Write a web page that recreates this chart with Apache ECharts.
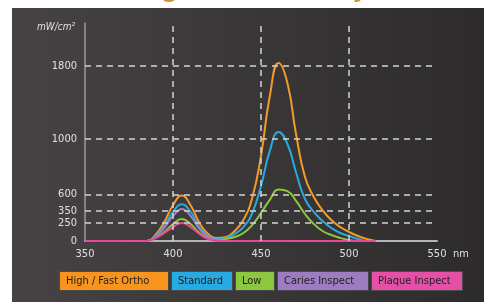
<!DOCTYPE html>
<html>
<head>
<meta charset="utf-8">
<script src="https://cdn.jsdelivr.net/npm/echarts@6/dist/echarts.min.js"></script>
<style>
    html, body { margin: 0; padding: 0; background: #fff; }
    #chart { width: 484px; height: 302px; }
</style>
</head>
<body>
<div id="chart"></div>
<script>
// wavelength samples (nm)
let wavelengths = [350, 355, 360, 365, 370, 375, 380, 385, 390, 395, 400, 405, 410, 415, 420, 425, 430,
    435, 440, 445, 450, 455, 460, 465, 470, 475, 480, 485, 490, 495, 500, 505, 510, 515];
// intensity (mW/cm²) per mode
let highFast = [0, 0, 0, 0, 0, 0, 0, 0, 83, 258, 438, 585, 438, 250, 97, 42, 56,
    139, 275, 547, 878, 1471, 1833, 1614, 1044, 726, 562, 360, 275, 194, 125, 69, 28, 0];
let standard = [0, 0, 0, 0, 0, 0, 0, 0, 69, 208, 342, 453, 342, 194, 69, 28, 42,
    97, 194, 333, 661, 914, 1077, 964, 755, 532, 342, 267, 181, 111, 69, 28, 0, 0];
let low = [0, 0, 0, 0, 0, 0, 0, 0, 42, 125, 236, 283, 236, 111, 42, 14, 28,
    56, 111, 222, 333, 520, 636, 624, 500, 325, 236, 139, 83, 42, 14, 0, 0, 0];
let caries = [0, 0, 0, 0, 0, 0, 0, 0, 56, 181, 308, 379, 308, 167, 56, 14, 0,
    0, 0, 0, 0, 0, 0, 0, 0, 0, 0, 0, 0, 0, 0, 0, 0, 0];
let plaque = [0, 0, 0, 0, 0, 0, 0, 0, 42, 111, 194, 250, 194, 97, 28, 0, 0,
    0, 0, 0, 0, 0, 0, 0, 0, 0, 0, 0, 0, 0, 0, 0, 0, 0];

let seriesNames = ['High / Fast Ortho', 'Standard', 'Low', 'Caries Inspect', 'Plaque Inspect'];
let xTicks = [350, 400, 450, 500, 550];
let yTicks = [0, 250, 350, 600, 1000, 1800];
// the printed y scale is not linear: where each tick sits on the axis
let yTickPos = [0, 18, 30, 46.5, 102, 175];

function toAxis (v) {
    for (let i = 1; i < yTicks.length; i++) {
        if (v <= yTicks[i] || i === yTicks.length - 1) {
            let t = (v - yTicks[i - 1]) / (yTicks[i] - yTicks[i - 1]);
            return yTickPos[i - 1] + t * (yTickPos[i] - yTickPos[i - 1]);
        }
    }
    return 0;
}

let lineColors = ['#f39a2b', '#2aa9e0', '#8cc63e', '#a47fc0', '#e6499b'];
let boxColors = ['#f7941e', '#27aae1', '#8dc63f', '#9e7cc1', '#e54fa8'];
let boxWidths = [96, 48, 26, 78, 78];
let values = [highFast, standard, low, caries, plaque];
let font = '"Liberation Sans Narrow", "DejaVu Sans Condensed", sans-serif';

let myChart = echarts.init(document.getElementById('chart'));

let series = [{
    name: 'grid',
    type: 'line',
    data: [],
    silent: true,
    markLine: {
        silent: true,
        symbol: ['none', 'none'],
        label: { show: false },
        lineStyle: { type: [6, 5], color: '#d4d4d4', width: 1.5 },
        data: yTicks.slice(1).map(v => ({ yAxis: toAxis(v) }))
            .concat(xTicks.slice(1, 4).map(v => ({ xAxis: v })))
    }
}];
values.forEach((vals, i) => {
    series.push({
        name: seriesNames[i],
        type: 'line',
        smooth: 0.5,
        symbol: 'none',
        lineStyle: { color: lineColors[i], width: 2 },
        itemStyle: { color: lineColors[i] },
        data: vals.map((v, j) => [wavelengths[j], toAxis(v)])
    });
});

myChart.setOption({
    animation: false,
    graphic: [
        {
            type: 'rect',
            z: -10,
            shape: { x: 12, y: 8, width: 472, height: 294 },
            style: {
                fill: new echarts.graphic.LinearGradient(0, 0, 1, 0, [
                    { offset: 0, color: '#474344' },
                    { offset: 1, color: '#2d2b2b' }
                ])
            }
        },
        {
            type: 'text',
            z: -11,
            left: 60,
            top: -23,
            style: {
                text: 'Wavelength and intensity',
                fill: '#c9963a',
                font: 'bold 24px "Open Sans"'
            }
        }
    ],
    grid: { left: 85, right: 47, top: 23, bottom: 61 },
    legend: {
        left: 50,
        top: 266,
        itemWidth: 0,
        itemHeight: 0,
        itemGap: -2,
        selectedMode: false,
        data: seriesNames.map((n, i) => ({
            name: n,
            icon: 'none',
            textStyle: {
                backgroundColor: boxColors[i],
                borderColor: '#4a4a4a',
                borderWidth: 1,
                width: boxWidths[i],
                align: 'center',
                padding: [3, 6, 2, 6],
                lineHeight: 13,
                color: '#222',
                fontSize: 11,
                fontFamily: font
            }
        }))
    },
    xAxis: {
        type: 'value',
        min: 350,
        max: 550,
        interval: 50,
        name: 'nm',
        nameLocation: 'end',
        nameGap: 16,
        nameTextStyle: { color: '#e0e0e0', fontSize: 11, fontFamily: font, verticalAlign: 'top', padding: [8, 0, 0, 0] },
        axisLine: { lineStyle: { color: '#b4b4b4', width: 2 } },
        axisTick: { show: false },
        splitLine: { show: false },
        axisLabel: { color: '#e0e0e0', fontSize: 11, fontFamily: font, margin: 8 }
    },
    yAxis: {
        type: 'value',
        min: 0,
        max: 218,
        name: 'mW/cm²',
        nameLocation: 'end',
        nameGap: -4,
        nameTextStyle: {
            color: '#e0e0e0', fontSize: 10, fontStyle: 'italic', fontFamily: font,
            align: 'right', verticalAlign: 'middle', padding: [0, 10, 0, 0]
        },
        axisLine: { show: true, lineStyle: { color: '#9a9a9a', width: 1.5 } },
        axisTick: { show: false },
        splitLine: { show: false },
        axisLabel: {
            color: '#e0e0e0',
            fontSize: 11,
            fontFamily: font,
            margin: 8,
            customValues: yTickPos,
            formatter: function (val) {
                let i = yTickPos.findIndex(p => Math.abs(p - val) < 0.01);
                return i >= 0 ? String(yTicks[i]) : '';
            }
        }
    },
    series: series
});
</script>
</body>
</html>
